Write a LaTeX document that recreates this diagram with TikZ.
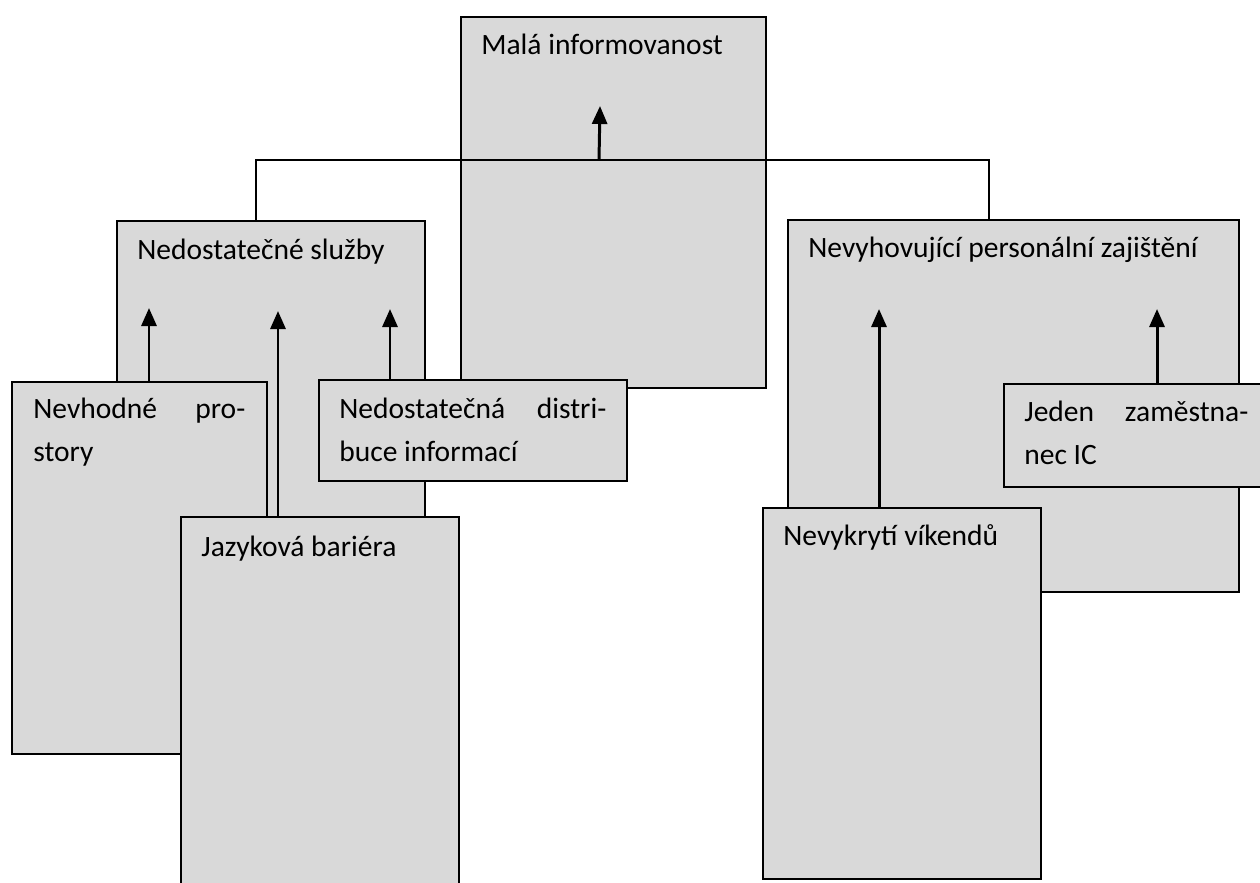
\documentclass[tikz,border=0pt]{standalone}
\usepackage{fontspec}
\setmainfont{Carlito}
\usepackage{tikz}
\usetikzlibrary{arrows.meta,positioning,calc}
\definecolor{boxgrey}{HTML}{D9D9D9}

\begin{document}
\begin{tikzpicture}[x=0.02cm,y=-0.02cm,
    box/.style={draw=black,fill=boxgrey,line width=1.2pt,inner sep=0pt,anchor=north west},
    lbl/.style={anchor=base west,inner sep=0pt,align=left,font=\fontsize{16.8}{24.5}\selectfont,
      execute at begin node={\spaceskip=0pt\xspaceskip=0pt\relax}},
    link/.style={draw=black,line width=0.9pt},
    cause/.style={draw=black,line width=1.7pt,-{Triangle[length=0.36cm,width=0.3cm]}}]
  \clip (0,0) rectangle (1260,882);

  \node[box,minimum width=6.1cm,minimum height=7.42cm] (mala) at (460,16) {};
  \node[box,minimum width=6.16cm,minimum height=5.92cm] (sluzby) at (116,220) {};
  \node[box,minimum width=9.02cm,minimum height=7.44cm] (personal) at (787,219) {};
  \node[box,minimum width=5.1cm,minimum height=7.44cm] (prostory) at (11,381) {};
  \node[box,minimum width=6.16cm,minimum height=2.02cm] (distribuce) at (318,379) {};
  \node[box,minimum width=5.56cm,minimum height=7.68cm] (jazyk) at (180,516) {};
  \node[box,minimum width=5.34cm,minimum height=2.06cm] (jeden) at (1003,383) {};
  \node[box,minimum width=5.56cm,minimum height=7.42cm] (vikendy) at (762,507) {};

  \node[lbl] (mala-t) at ([shift={(21,39)}]mala.north west) {Malá informovanost};
  \node[lbl] (sluzby-t) at ([shift={(21,39)}]sluzby.north west) {Nedostatečné služby};
  \node[lbl] (personal-t) at ([shift={(21,38)}]personal.north west) {Nevyhovující personální zajištění};
  \node[lbl,text width=4.24cm] (prostory-t) at ([shift={(22,37)}]prostory.north west) {Nevhodné\hfill pro-\\story};
  \node[lbl,text width=5.34cm] (distribuce-t) at ([shift={(21,39)}]distribuce.north west) {Nedostatečná\hfill distri-\\buce informací};
  \node[lbl] (jazyk-t) at ([shift={(21,40)}]jazyk.north west) {Jazyková bariéra};
  \node[lbl,text width=4.48cm] (jeden-t) at ([shift={(21,38)}]jeden.north west) {Jeden\hfill zaměstna-\\nec IC};
  \node[lbl] (vikendy-t) at ([shift={(21,38)}]vikendy.north west) {Nevykrytí víkendů};

  \coordinate (joinL) at (256,160);
  \coordinate (joinM) at (599,160);
  \coordinate (joinR) at (989,160);
  \coordinate (malaTip) at (600,106);
  \coordinate (s1) at (149,308);
  \coordinate (s2) at (278,311);
  \coordinate (s3) at (390,309);
  \coordinate (p1) at (879,309);
  \coordinate (p2) at (1157,309);

  \draw[link] (sluzby.north -| joinL) -- (joinL) -- (joinR) -- (personal.north -| joinR);
  \draw[cause] (joinM) -- (malaTip);
  \draw[cause] (prostory.north -| s1) -- (s1);
  \draw[cause] (jazyk.north -| s2) -- (s2);
  \draw[cause] (distribuce.north -| s3) -- (s3);
  \draw[cause] (vikendy.north -| p1) -- (p1);
  \draw[cause] (jeden.north -| p2) -- (p2);
\end{tikzpicture}
\end{document}
